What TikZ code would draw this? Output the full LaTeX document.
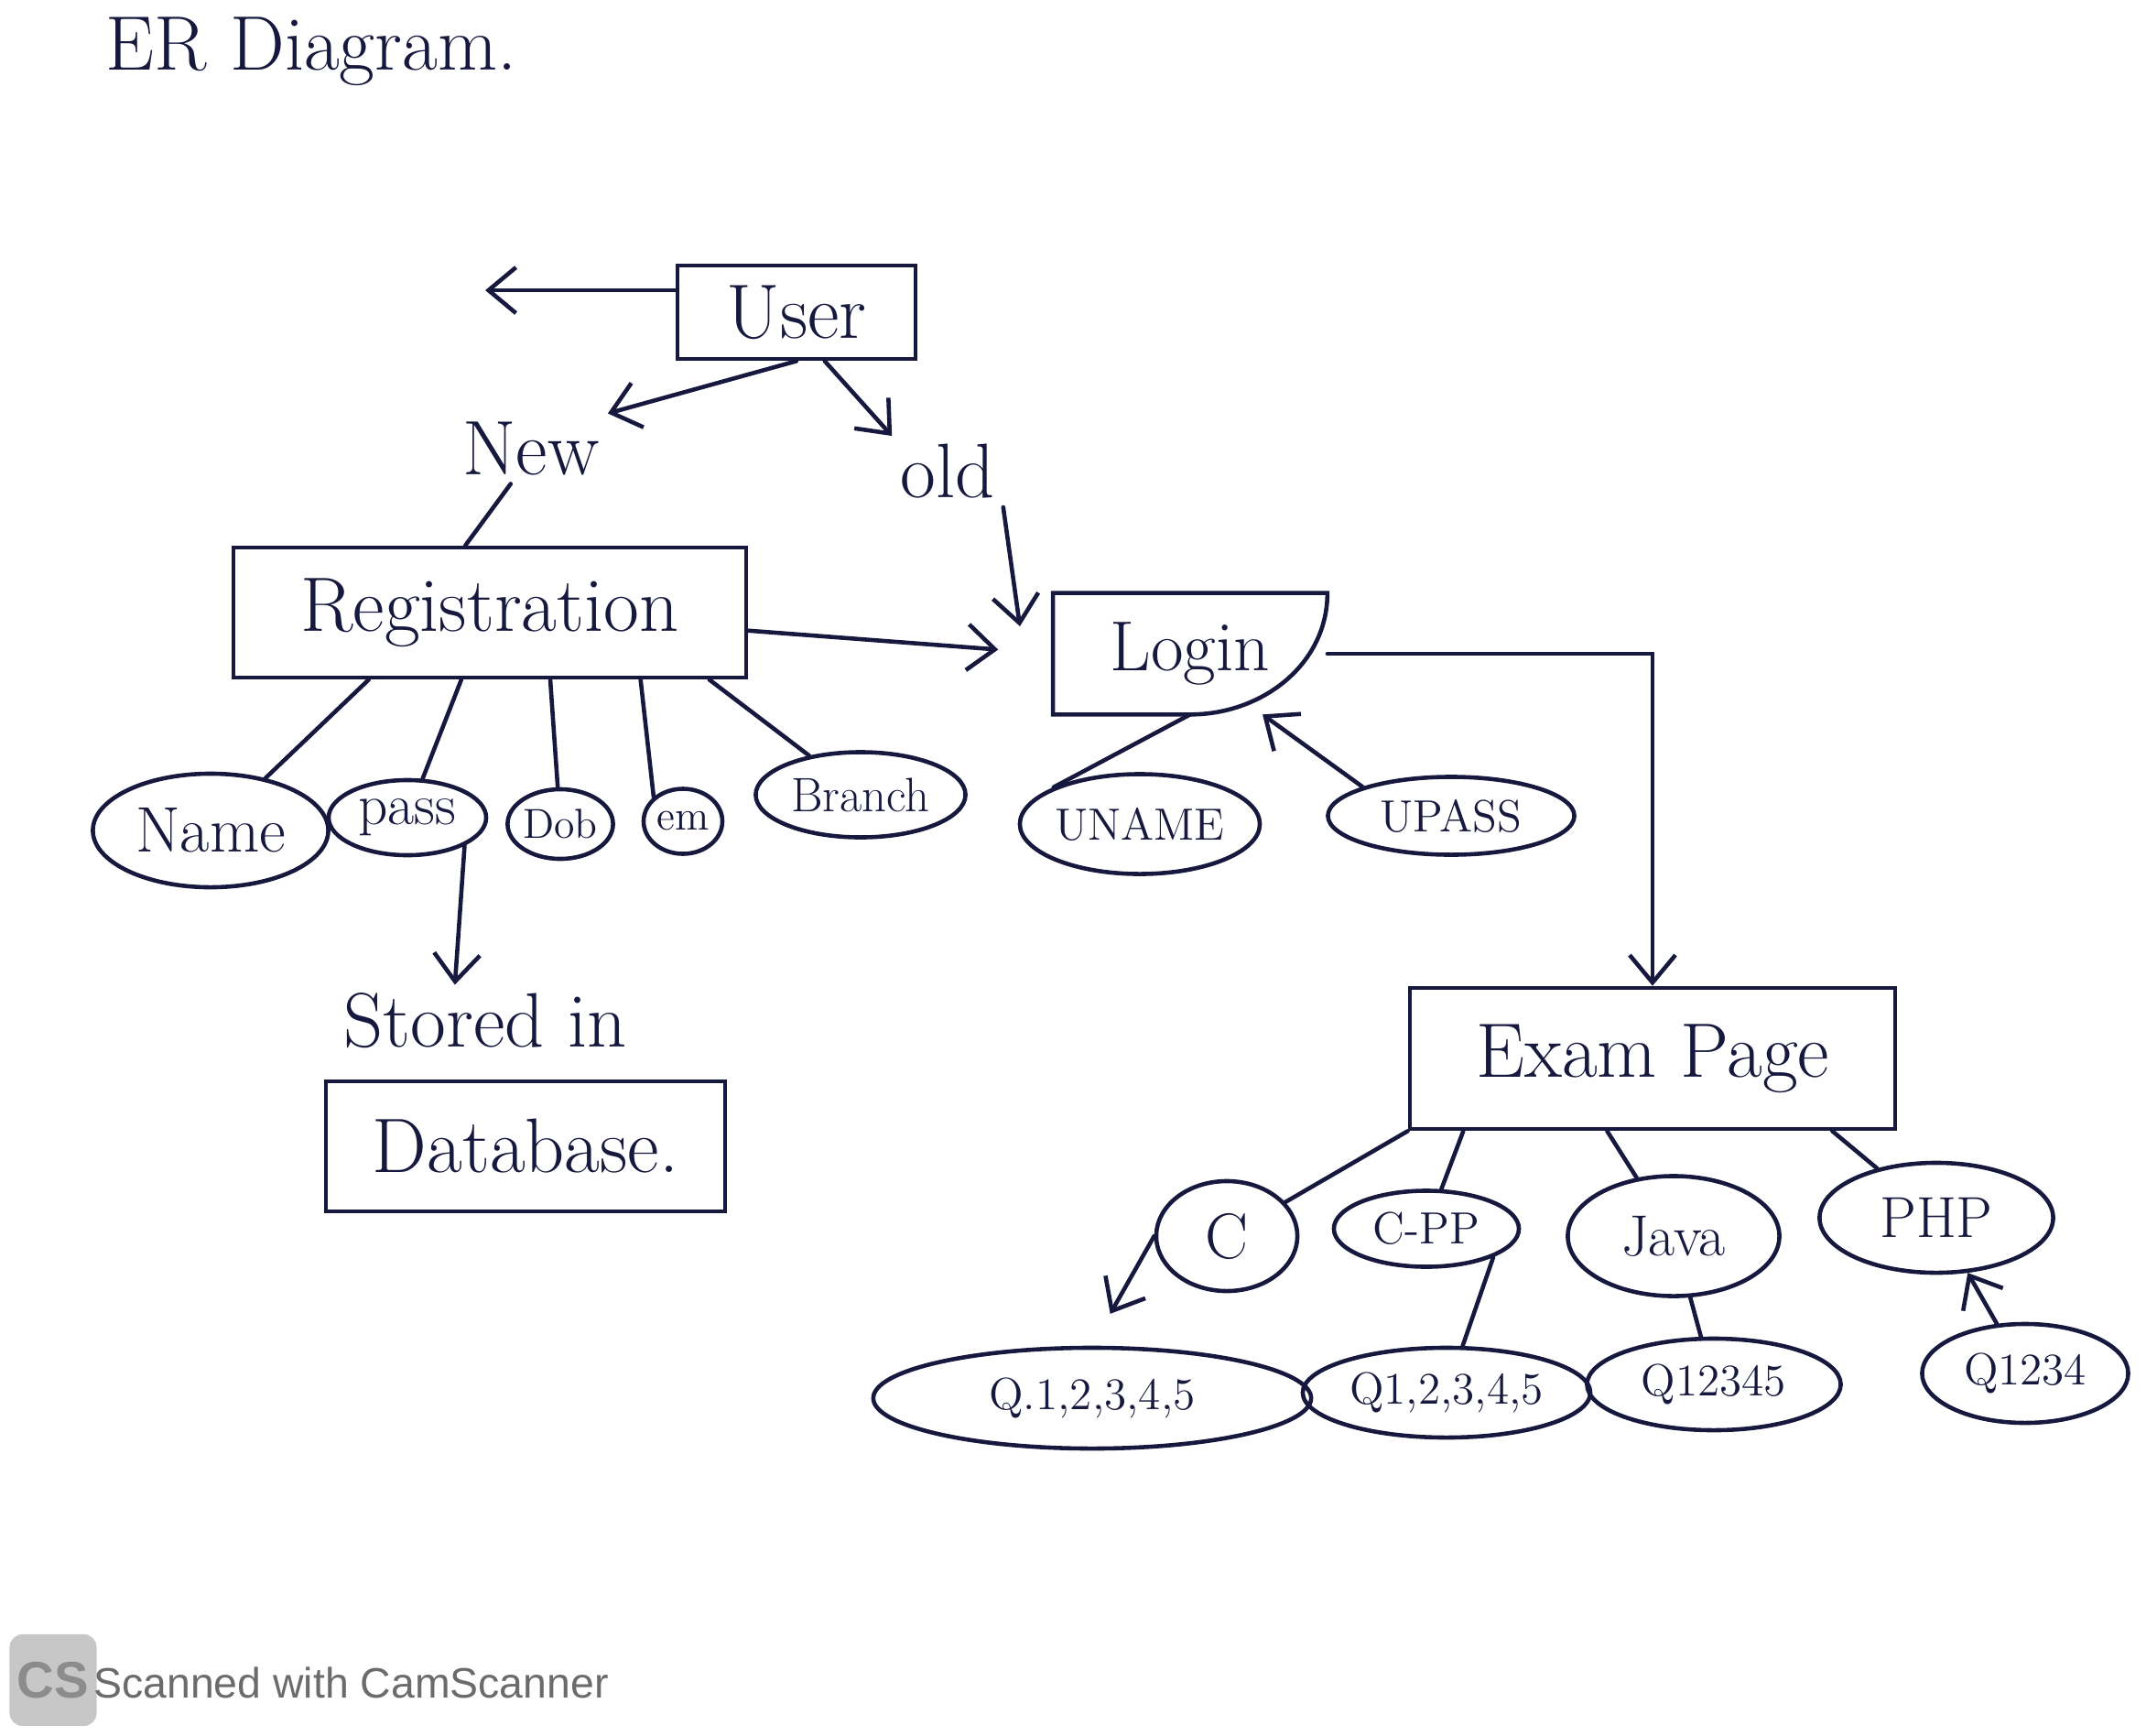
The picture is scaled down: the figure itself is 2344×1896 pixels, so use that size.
\documentclass[tikz,border=0pt]{standalone}
\usepackage{fontspec}
\newfontfamily\camfont{Liberation Sans}
\usetikzlibrary{shapes.geometric,arrows.meta}
\definecolor{ink}{RGB}{22,24,62}
\begin{document}
\begin{tikzpicture}[x=0.01cm, y=-0.01cm, ink, line width=1.3pt, line cap=round,
    >={Straight Barb[length=3mm,width=5mm]},
    ent/.style = {draw, rectangle, inner sep=0pt, font=\fontsize{24}{28}\selectfont},
    attr/.style = {draw, ellipse, inner sep=0pt, font=\fontsize{14}{17}\selectfont},
    word/.style = {inner sep=2pt, font=\fontsize{24}{28}\selectfont}]
\useasboundingbox (0,0) rectangle (2344,1896);
\node[word] (title) at (340,56) {ER Diagram.};
\node[ent, minimum width=2.6cm, minimum height=1.02cm] (user) at (870,341) {User};
\coordinate (usrend) at (530,317);
\node[word] (new) at (580,490) {New};
\node[word] (old) at (1035,515) {old};
\node[ent, minimum width=5.6cm, minimum height=1.42cm] (reg) at (535,669) {Registration};
\node[minimum width=2.95cm, minimum height=1.28cm, font=\fontsize{22}{26}\selectfont] (login) at (1300,714) {Login};
\draw (login.south west) -- (login.north west) -- (login.north east) to[out=-90, in=0] (login.south) -- cycle;
\coordinate (oldin) at (1114,684);
\node[attr, font=\fontsize{20}{24}\selectfont, minimum width=2.57cm, minimum height=1.24cm] (name) at (230,907) {Name};
\node[attr, font=\fontsize{18}{22}\selectfont, minimum width=1.72cm, minimum height=0.82cm] (pass) at (445,893) {pass};
\node[attr, font=\fontsize{13}{16}\selectfont, minimum width=0.93cm, minimum height=0.76cm] (dob) at (612,900) {Dob};
\node[attr, font=\fontsize{13}{16}\selectfont, minimum width=0.86cm, minimum height=0.71cm] (em) at (746,897) {em};
\node[attr, font=\fontsize{15}{18}\selectfont, minimum width=2.29cm, minimum height=0.93cm] (branch) at (940,868) {Branch};
\node[attr, minimum width=2.61cm, minimum height=1.09cm] (uname) at (1245,900) {UNAME};
\node[attr, minimum width=2.69cm, minimum height=0.85cm] (upass) at (1585,891) {UPASS};
\node[word] (stored) at (530,1115) {Stored in};
\node[ent, minimum width=4.36cm, minimum height=1.42cm] (db) at (574,1252) {Database.};
\node[ent, minimum width=5.3cm, minimum height=1.54cm] (exam) at (1805,1156) {Exam Page};
\node[attr, font=\fontsize{20}{24}\selectfont, minimum width=1.54cm, minimum height=1.2cm] (c) at (1340,1350) {C};
\node[attr, minimum width=2.02cm, minimum height=0.83cm] (cpp) at (1558,1342) {C-PP};
\node[attr, font=\fontsize{18}{22}\selectfont, minimum width=2.31cm, minimum height=1.31cm] (java) at (1828,1350) {Java};
\node[attr, font=\fontsize{18}{22}\selectfont, minimum width=2.55cm, minimum height=1.2cm] (php) at (2115,1330) {PHP};
\node[attr, minimum width=4.78cm, minimum height=1.1cm] (q1) at (1193,1527) {Q.1,2,3,4,5};
\node[attr, minimum width=3.14cm, minimum height=0.98cm] (q2) at (1580,1521) {Q1,2,3,4,5};
\node[attr, minimum width=2.77cm, minimum height=1.0cm] (q3) at (1872,1512) {Q12345};
\node[attr, minimum width=2.25cm, minimum height=1.08cm] (q4) at (2212,1500) {Q1234};
\draw[->] (user.west |- usrend) -- (usrend);
\draw[->] (user.south) -- (new.north east);
\draw[->] (user.-60) -- (old.north west);
\draw (new.-120) -- (reg.110);
\draw[->] (old.south east) -- (oldin);
\draw[->, shorten >=6mm] (reg.-4) -- (login.west);
\draw[->] (login.east) -| (exam.north);
\draw (reg.-151) -- (name);
\draw (reg.-113) -- (pass);
\draw (reg.-48) -- (dob);
\draw (reg.-24) -- (em.north west);
\draw (reg.-17) -- (branch);
\draw (login.south) -- (uname.north west);
\draw[->] (upass.north west) -- (login.-40);
\draw[->] (pass.south east) -- (stored.130);
\draw (exam.south west) -- (c);
\draw (exam.-159) -- (cpp);
\draw (exam.-122) -- (java);
\draw (exam.-22) -- (php);
\draw[->, shorten >=4mm] (c.west) -- (q1.north);
\draw (cpp.south east) -- (q2);
\draw (java) -- (q3);
\draw[->] (q4) -- (php);
\node[fill=black!22, rounded corners=4pt, minimum width=0.95cm, minimum height=1.0cm, text=black!45, font=\camfont\bfseries\fontsize{16}{16}\selectfont, inner sep=0pt] (cs) at (58,1835) {CS};
\node[anchor=west, text=black!58, font=\camfont\fontsize{13.2}{16}\selectfont, inner sep=0pt] (cam) at (100,1838) {Scanned with CamScanner};
\end{tikzpicture}
\end{document}
